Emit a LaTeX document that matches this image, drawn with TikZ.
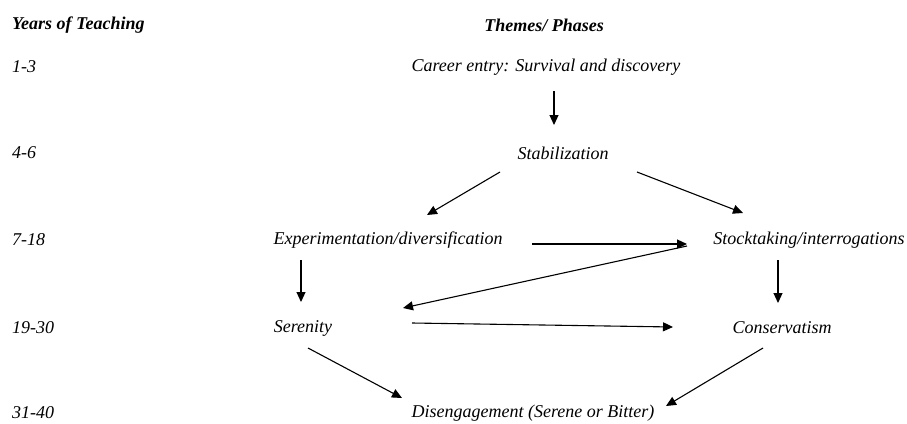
\documentclass[tikz,border=0pt]{standalone}
\usepackage{fontspec}
\setmainfont{Liberation Serif}
\usetikzlibrary{arrows.meta, positioning}

\begin{document}
\begin{tikzpicture}[x=1pt, y=-1pt,
    >={Triangle[length=10pt, width=9pt]},
    phase/.style={inner sep=0pt, font=\fontsize{18}{20}\selectfont\itshape},
    years/.style={inner sep=0pt, anchor=west, font=\fontsize{18}{20}\selectfont\itshape},
    head/.style={inner sep=0pt, font=\fontsize{18}{20}\selectfont\bfseries\itshape},
    flow/.style={->, line width=1.1pt}]
    \useasboundingbox (0,0) rectangle (907,423);

    % Headings
    \node[head, anchor=west] (yhead) at (12,25) {Years of Teaching};
    \node[head] (thead) at (544,25) {Themes/ Phases};

    % Years
    \node[years] (y1) at (12,67) {1-3};
    \node[years] (y2) at (12,153) {4-6};
    \node[years] (y3) at (12,240) {7-18};
    \node[years] (y4) at (12,328) {19-30};
    \node[years] (y5) at (12,413) {31-40};

    % Phases
    \node[phase] (entry) at (546,67) {Career entry: Survival and discovery};
    \node[phase] (stab) at (563,153) {Stabilization};
    \node[phase] (exper) at (388,240) {Experimentation/diversification};
    \node[phase] (stock) at (809,240) {Stocktaking/interrogations};
    \node[phase] (seren) at (303,328) {Serenity};
    \node[phase] (conserv) at (782,328) {Conservatism};
    \node[phase] (diseng) at (533,413) {Disengagement (Serene or Bitter)};

    % Arrows
    \draw[flow] ([shift={(8,24)}]entry.center) -- ([shift={(-9,-28)}]stab.center);
    \draw[flow] ([shift={(-63,19)}]stab.center) -- ([shift={(39,-25)}]exper.center);
    \draw[flow] ([shift={(74,19)}]stab.center) -- ([shift={(-66,-27)}]stock.center);
    \draw[flow] ([shift={(144,4)}]exper.center) -- ([shift={(-122,4)}]stock.center);
    \draw[flow] ([shift={(-122,6)}]stock.center) -- ([shift={(100,-20)}]seren.center);
    \draw[flow] ([shift={(-87,20)}]exper.center) -- ([shift={(-2,-26)}]seren.center);
    \draw[flow] ([shift={(109,-5)}]seren.center) -- ([shift={(-109,-1)}]conserv.center);
    \draw[flow] ([shift={(-31,20)}]stock.center) -- ([shift={(-4,-25)}]conserv.center);
    \draw[flow] ([shift={(5,20)}]seren.center) -- ([shift={(-131,-15)}]diseng.center);
    \draw[flow] ([shift={(-19,20)}]conserv.center) -- ([shift={(133,-7)}]diseng.center);
\end{tikzpicture}
\end{document}
